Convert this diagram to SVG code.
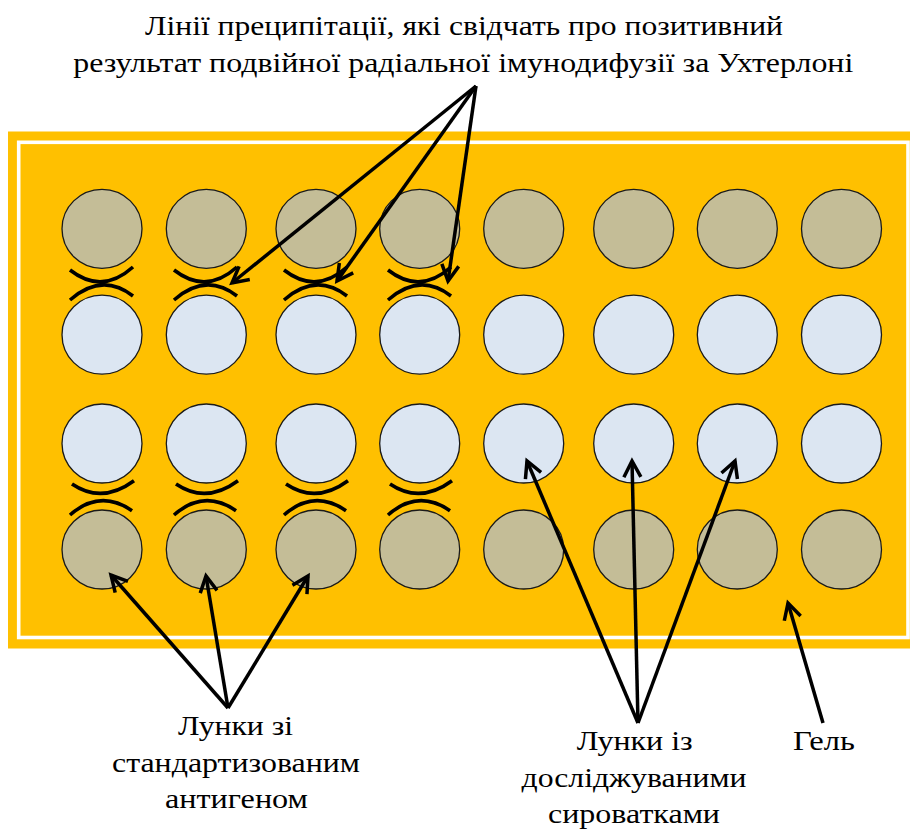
<svg xmlns="http://www.w3.org/2000/svg" width="910" height="829" viewBox="0 0 910 829">
<style>
.t{font-family:'Liberation Serif','Times New Roman',serif;font-size:27.5px;fill:#000;text-anchor:middle}
.ag{fill:#C4BD97;stroke:#1a1a1a;stroke-width:1.3}
.sr{fill:#DCE6F2;stroke:#1a1a1a;stroke-width:1.3}
.arc{fill:none;stroke:#000;stroke-width:3.6;stroke-linecap:butt}
.ar{fill:none;stroke:#000;stroke-width:3.5;marker-end:url(#oa)}
</style>
<defs>
<marker id="oa" viewBox="0 0 24 24" refX="20" refY="12" markerWidth="24" markerHeight="24" markerUnits="userSpaceOnUse" orient="auto">
<path d="M4,3.5 L20,12 L4,20.5" fill="none" stroke="#000" stroke-width="3.5" stroke-linejoin="miter"/>
</marker>
</defs>
<g id="gel">
<rect x="8" y="131.5" width="910" height="517" fill="#FFC000"/>
<rect x="18.7" y="142.3" width="889.3" height="495.2" fill="none" stroke="#fff" stroke-width="3.6"/>
</g>
<g id="row1-antigen">
<ellipse class="ag" cx="102" cy="228.8" rx="40" ry="39.5"/>
<ellipse class="ag" cx="206.3" cy="228.8" rx="40" ry="39.5"/>
<ellipse class="ag" cx="316" cy="228.8" rx="40" ry="39.5"/>
<ellipse class="ag" cx="419.7" cy="228.8" rx="40" ry="39.5"/>
<ellipse class="ag" cx="523.7" cy="228.8" rx="40" ry="39.5"/>
<ellipse class="ag" cx="633.7" cy="228.8" rx="40" ry="39.5"/>
<ellipse class="ag" cx="737.3" cy="228.8" rx="40" ry="39.5"/>
<ellipse class="ag" cx="841.5" cy="228.8" rx="40" ry="39.5"/>
</g>
<g id="row2-serum">
<ellipse class="sr" cx="102" cy="334.7" rx="40" ry="39.5"/>
<ellipse class="sr" cx="206.3" cy="334.7" rx="40" ry="39.5"/>
<ellipse class="sr" cx="316" cy="334.7" rx="40" ry="39.5"/>
<ellipse class="sr" cx="419.7" cy="334.7" rx="40" ry="39.5"/>
<ellipse class="sr" cx="523.7" cy="334.7" rx="40" ry="39.5"/>
<ellipse class="sr" cx="633.7" cy="334.7" rx="40" ry="39.5"/>
<ellipse class="sr" cx="737.3" cy="334.7" rx="40" ry="39.5"/>
<ellipse class="sr" cx="841.5" cy="334.7" rx="40" ry="39.5"/>
</g>
<g id="row3-serum">
<ellipse class="sr" cx="102" cy="443.5" rx="40" ry="39.5"/>
<ellipse class="sr" cx="206.3" cy="443.5" rx="40" ry="39.5"/>
<ellipse class="sr" cx="316" cy="443.5" rx="40" ry="39.5"/>
<ellipse class="sr" cx="419.7" cy="443.5" rx="40" ry="39.5"/>
<ellipse class="sr" cx="523.7" cy="443.5" rx="40" ry="39.5"/>
<ellipse class="sr" cx="633.7" cy="443.5" rx="40" ry="39.5"/>
<ellipse class="sr" cx="737.3" cy="443.5" rx="40" ry="39.5"/>
<ellipse class="sr" cx="841.5" cy="443.5" rx="40" ry="39.5"/>
</g>
<g id="row4-antigen">
<ellipse class="ag" cx="102" cy="549.5" rx="40" ry="39.5"/>
<ellipse class="ag" cx="206.3" cy="549.5" rx="40" ry="39.5"/>
<ellipse class="ag" cx="316" cy="549.5" rx="40" ry="39.5"/>
<ellipse class="ag" cx="419.7" cy="549.5" rx="40" ry="39.5"/>
<ellipse class="ag" cx="523.7" cy="549.5" rx="40" ry="39.5"/>
<ellipse class="ag" cx="633.7" cy="549.5" rx="40" ry="39.5"/>
<ellipse class="ag" cx="737.3" cy="549.5" rx="40" ry="39.5"/>
<ellipse class="ag" cx="841.5" cy="549.5" rx="40" ry="39.5"/>
</g>
<g id="precipitation-lines">
<path class="arc" d="M70,270 Q102,295 133,267 M70,300 Q102,272 133,296"/>
<path class="arc" d="M174,270 Q206,295 237,267 M174,300 Q206,272 237,296"/>
<path class="arc" d="M284,270 Q316,295 347,267 M284,300 Q316,272 347,296"/>
<path class="arc" d="M388,270 Q420,295 451,267 M388,300 Q420,272 451,296"/>
<path class="arc" d="M72,484 Q102,504.3 134,480.7 M70,515 Q100,488.6 132,510.7"/>
<path class="arc" d="M176,484 Q206,504.3 238,480.7 M174,515 Q204,488.6 236,510.7"/>
<path class="arc" d="M286,484 Q316,504.3 348,480.7 M284,515 Q314,488.6 346,510.7"/>
<path class="arc" d="M390,484 Q420,504.3 452,480.7 M388,515 Q418,488.6 450,510.7"/>
</g>
<g id="connectors">
<path class="ar" d="M476,86 L232,283"/>
<path class="ar" d="M476,86 L337,281"/>
<path class="ar" d="M476,86 L448,281"/>
<path class="ar" d="M228,708 L111,575"/>
<path class="ar" d="M228,708 L206,576"/>
<path class="ar" d="M228,708 L308,576"/>
<path class="ar" d="M638,723 L527,461"/>
<path class="ar" d="M638,723 L632,461"/>
<path class="ar" d="M638,723 L735,461"/>
<path class="ar" d="M823,723 L788,603"/>
</g>
<g id="label-top">
<text class="t" x="464" y="35" textLength="638" lengthAdjust="spacingAndGlyphs">Лінії преципітації, які свідчать про позитивний</text>
<text class="t" x="463.3" y="71.7" textLength="780" lengthAdjust="spacingAndGlyphs">результат подвійної радіальної імунодифузії за Ухтерлоні</text>
</g>
<g id="label-antigen">
<text class="t" x="235.5" y="735" textLength="115" lengthAdjust="spacingAndGlyphs">Лунки зі</text>
<text class="t" x="236" y="771.7" textLength="248" lengthAdjust="spacingAndGlyphs">стандартизованим</text>
<text class="t" x="236.5" y="808.3" textLength="143" lengthAdjust="spacingAndGlyphs">антигеном</text>
</g>
<g id="label-serum">
<text class="t" x="634.7" y="750" textLength="116" lengthAdjust="spacingAndGlyphs">Лунки із</text>
<text class="t" x="634" y="786.7" textLength="225" lengthAdjust="spacingAndGlyphs">досліджуваними</text>
<text class="t" x="634" y="823.3" textLength="172" lengthAdjust="spacingAndGlyphs">сироватками</text>
</g>
<g id="label-gel">
<text class="t" x="824" y="750" textLength="62" lengthAdjust="spacingAndGlyphs">Гель</text>
</g>
</svg>
